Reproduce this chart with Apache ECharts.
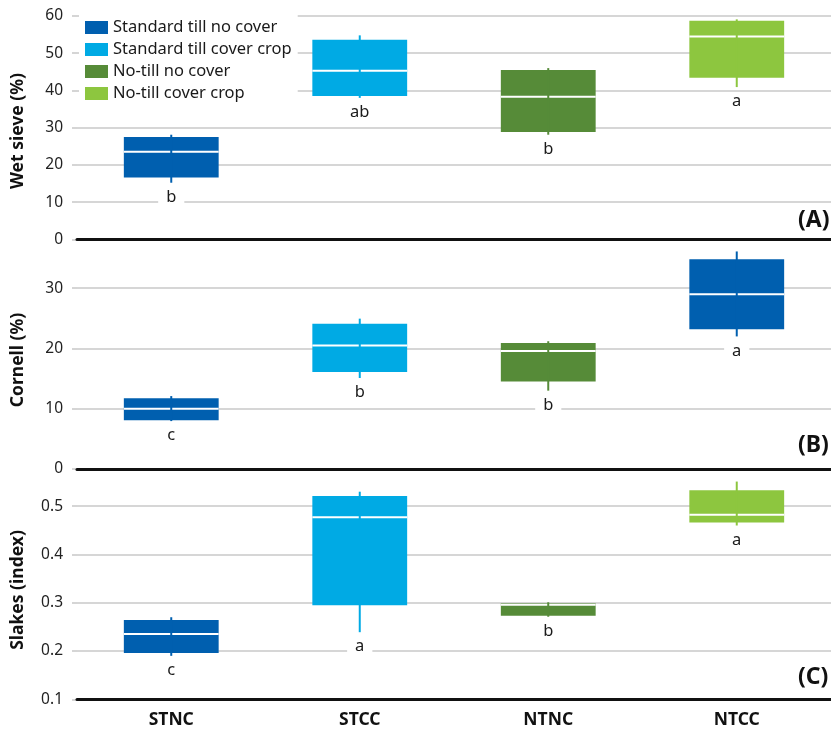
<!DOCTYPE html>
<html>
<head>
<meta charset="utf-8">
<script src="https://cdn.jsdelivr.net/npm/echarts@6/dist/echarts.min.js"></script>
<style>
html,body{margin:0;padding:0;background:#fff;}
#chart{width:831px;height:730px;}
</style>
</head>
<body>
<div id="chart"></div>
<script>
// ---- data ----
var categories = ['STNC', 'STCC', 'NTNC', 'NTCC'];
var legendNames = ['Standard till no cover', 'Standard till cover crop', 'No-till no cover', 'No-till cover crop'];

// [low whisker, Q1, median, Q3, high whisker]
var wetSieve = [
  [15.2, 16.6, 23.5, 27.5, 28.1],
  [38.0, 38.5, 45.3, 53.6, 54.8],
  [28.1, 28.8, 38.3, 45.5, 46.0],
  [40.9, 43.4, 54.5, 58.7, 59.1]
];
var wetSieveLetters = ['b', 'ab', 'b', 'a'];

var cornell = [
  [7.95, 8.1, 10.0, 11.75, 12.1],
  [15.1, 16.1, 20.5, 24.1, 24.95],
  [13.0, 14.5, 19.6, 20.9, 21.2],
  [22.0, 23.2, 29.0, 34.8, 36.1]
];
var cornellLetters = ['c', 'b', 'b', 'a'];

var slakes = [
  [0.190, 0.196, 0.235, 0.264, 0.270],
  [0.239, 0.295, 0.477, 0.521, 0.530],
  [0.271, 0.273, 0.296, 0.299, 0.301],
  [0.460, 0.466, 0.482, 0.533, 0.551]
];
var slakesLetters = ['c', 'a', 'b', 'a'];

var wetTicks = [0, 60, 10];
var cornellTicks = [0, 38, 10];
var slakesTicks = [0.1, 0.577, 0.1];

// ---- styles ----
var C_DB = '#005FAF', C_LB = '#00AAE4', C_DG = '#568B38', C_LG = '#8DC63F';
var legendColors = [C_DB, C_LB, C_DG, C_LG];
var panelColors = [
  [C_DB, C_LB, C_DG, C_LG],
  [C_DB, C_LB, C_DG, C_DB],
  [C_DB, C_LB, C_DG, C_LG]
];
var FONT = 'Noto Sans';
var GRID_LEFT = 77, GRID_W = 756;
var grids = [
  {left: GRID_LEFT, width: GRID_W, top: 16, height: 223.3},
  {left: GRID_LEFT, width: GRID_W, top: 240, height: 229},
  {left: GRID_LEFT, width: GRID_W, top: 469, height: 230.3}
];

function makeRender(colors, letters) {
  return function (params, api) {
    var c = api.value(0);
    var low = api.coord([c, api.value(1)]);
    var q1 = api.coord([c, api.value(2)]);
    var med = api.coord([c, api.value(3)]);
    var q3 = api.coord([c, api.value(4)]);
    var high = api.coord([c, api.value(5)]);
    var w = api.size([1, 0])[0] * 0.503;
    var col = colors[params.dataIndex];
    var x0 = med[0] - w / 2;
    return {
      type: 'group',
      children: [
        {type: 'rect', shape: {x: x0, y: q3[1], width: w, height: q1[1] - q3[1]}, style: {fill: col}},
        {type: 'line', shape: {x1: x0, y1: med[1], x2: x0 + w, y2: med[1]}, style: {stroke: '#fff', lineWidth: 2}},
        {type: 'line', shape: {x1: med[0], y1: high[1], x2: med[0], y2: low[1]}, style: {stroke: col, lineWidth: 2}},
        {type: 'text', x: med[0], y: low[1] + 6,
          style: {text: letters[params.dataIndex], fill: '#1a1a1a', font: '16.5px "' + FONT + '"',
            align: 'center', verticalAlign: 'top', backgroundColor: '#fff', padding: [0, 8, 0, 8]}}
      ]
    };
  };
}

function toData(arr) {
  return arr.map(function (v, i) { return [i].concat(v); });
}

var panels = [
  {data: wetSieve, letters: wetSieveLetters, ticks: wetTicks},
  {data: cornell, letters: cornellLetters, ticks: cornellTicks},
  {data: slakes, letters: slakesLetters, ticks: slakesTicks}
];

var xAxes = [], yAxes = [], series = [];
panels.forEach(function (p, i) {
  xAxes.push({
    type: 'category', gridIndex: i, data: categories,
    axisLine: {show: true, lineStyle: {color: '#111', width: 3}},
    axisTick: {show: false},
    axisLabel: {show: i === 2, color: '#111', fontFamily: FONT, fontWeight: 'bold', fontSize: 17.5, margin: 12},
    splitLine: {show: false},
    z: 5
  });
  yAxes.push({
    type: 'value', gridIndex: i, min: p.ticks[0], max: p.ticks[1], interval: p.ticks[2],
    axisLine: {show: false},
    axisTick: {show: true, length: 5, lineStyle: {color: '#c8c8c8', width: 1.5}},
    axisLabel: {color: '#222', fontFamily: FONT, fontSize: 15.5, margin: 14, showMaxLabel: i === 0},
    splitLine: {show: true, showMaxLine: i === 0, lineStyle: {color: '#c8c8c8', width: 1.5}}
  });
  series.push({
    type: 'custom', xAxisIndex: i, yAxisIndex: i,
    renderItem: makeRender(panelColors[i], p.letters),
    data: toData(p.data),
    encode: {x: 0, y: [1, 2, 3, 4, 5]},
    z: 3
  });
});

legendNames.forEach(function (n, k) {
  series.push({type: 'line', name: n, xAxisIndex: 0, yAxisIndex: 0, data: [], color: legendColors[k]});
});

var option = {
  animation: false,
  backgroundColor: '#fff',
  grid: grids,
  xAxis: xAxes,
  yAxis: yAxes,
  legend: {
    data: legendNames.map(function (n) { return {name: n, icon: 'rect'}; }),
    orient: 'vertical', left: 79, top: 15,
    itemWidth: 23, itemHeight: 13, itemGap: 5,
    padding: [4, 6, 4, 6],
    backgroundColor: '#fff',
    textStyle: {color: '#1a1a1a', fontFamily: FONT, fontSize: 16.5},
    selectedMode: false,
    z: 10
  },
  graphic: [
    {type: 'text', x: 18, y: 131, rotation: Math.PI / 2,
      style: {text: 'Wet sieve (%)', font: 'bold 17.5px "' + FONT + '"', fill: '#111', align: 'center', verticalAlign: 'middle'}},
    {type: 'text', x: 18, y: 360, rotation: Math.PI / 2,
      style: {text: 'Cornell (%)', font: 'bold 17.5px "' + FONT + '"', fill: '#111', align: 'center', verticalAlign: 'middle'}},
    {type: 'text', x: 18, y: 590, rotation: Math.PI / 2,
      style: {text: 'Slakes (index)', font: 'bold 17.5px "' + FONT + '"', fill: '#111', align: 'center', verticalAlign: 'middle'}},
    {type: 'text', x: 798, y: 220, style: {text: '(A)', font: 'bold 23px "' + FONT + '"', fill: '#111', align: 'left', verticalAlign: 'middle'}},
    {type: 'text', x: 798, y: 445, style: {text: '(B)', font: 'bold 23px "' + FONT + '"', fill: '#111', align: 'left', verticalAlign: 'middle'}},
    {type: 'text', x: 798, y: 677, style: {text: '(C)', font: 'bold 23px "' + FONT + '"', fill: '#111', align: 'left', verticalAlign: 'middle'}}
  ],
  series: series
};

var chart = echarts.init(document.getElementById('chart'));
chart.setOption(option);
</script>
</body>
</html>
